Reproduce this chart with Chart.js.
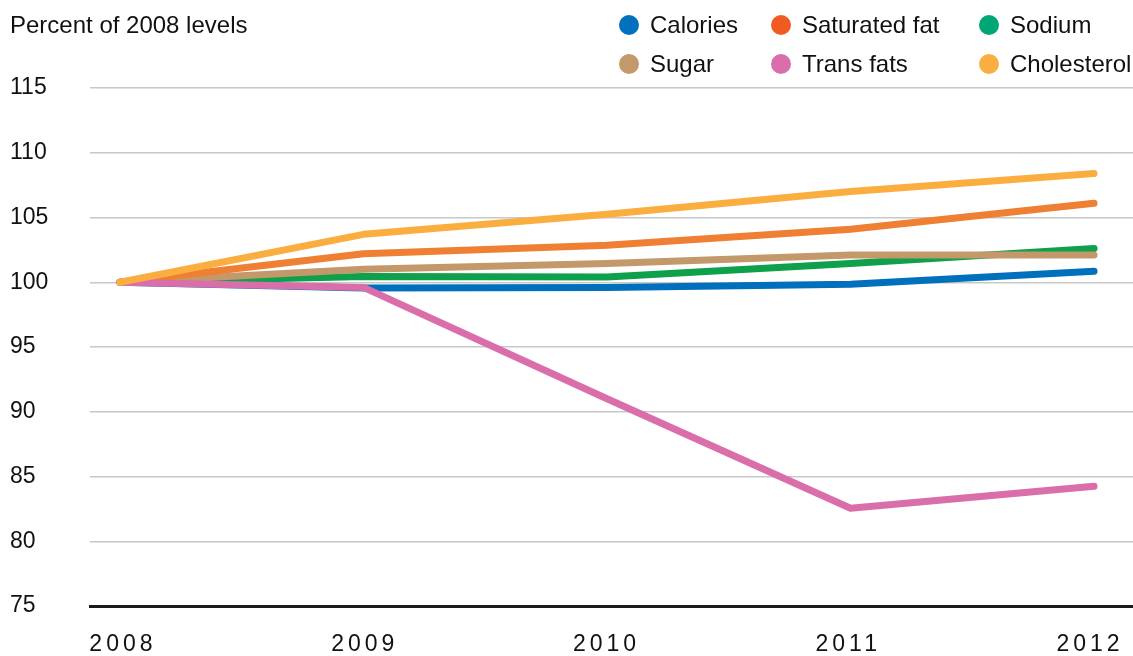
<!DOCTYPE html>
<html>
<head>
<meta charset="utf-8">
<title>Percent of 2008 levels</title>
<script src="https://cdn.jsdelivr.net/npm/chart.js@4/dist/chart.umd.min.js"></script>
<style>
  html, body { margin: 0; padding: 0; background: #fff; }
  #wrap { position: relative; width: 1133px; height: 656px; font-family: "Liberation Sans", Arial, sans-serif; color: #111; }
  #chart { position: absolute; left: 0; top: 0; }
  #title { position: absolute; left: 10px; top: 12px; font-size: 24px; line-height: 26px; white-space: nowrap; }
  .item { position: absolute; height: 26px; line-height: 26px; font-size: 24px; white-space: nowrap; }
  .dot { position: absolute; left: 0; top: 3px; width: 20px; height: 20px; border-radius: 50%; }
  .txt { position: absolute; left: 31px; top: 0; }
</style>
</head>
<body>
<div id="wrap">
  <canvas id="chart" width="1133" height="656"></canvas>
  <div id="title">Percent of 2008 levels</div>
  <div id="legend"></div>
</div>
<script>
// Index values, 2008 = 100
const years = [2008, 2009, 2010, 2011, 2012];
const calories     = [100, 99.55, 99.6, 99.85, 100.85];
const saturatedFat = [100, 102.2, 102.85, 104.1, 106.1];
const sodium       = [100, 100.45, 100.4, 101.45, 102.6];
const sugar        = [100, 101.0, 101.45, 102.1, 102.1];
const transFats    = [100, 99.6, 91.0, 82.55, 84.25];
const cholesterol  = [100, 103.7, 105.25, 107.0, 108.4];
const seriesNames  = ['Calories', 'Saturated fat', 'Sodium', 'Sugar', 'Trans fats', 'Cholesterol'];
const yTicks = [75, 80, 85, 90, 95, 100, 105, 110, 115];

// Styling
const lineColors   = ['#0070bd', '#ee7f33', '#0ea04b', '#c3986a', '#da6eab', '#fbae40'];
const legendColors = ['#0070bf', '#f25a23', '#00a676', '#c3986a', '#da6eab', '#fbae40'];
const drawOrder    = [6, 3, 5, 4, 2, 1]; // lower = drawn on top
const allSeries = [calories, saturatedFat, sodium, sugar, transFats, cholesterol];

// Legend: three columns, two rows
const legendCols = [619, 771, 979];
const legendRows = [12, 51];
const legendEl = document.getElementById('legend');
seriesNames.forEach((name, i) => {
  const item = document.createElement('div');
  item.className = 'item';
  item.style.left = legendCols[i % 3] + 'px';
  item.style.top = legendRows[Math.floor(i / 3)] + 'px';
  const dot = document.createElement('span');
  dot.className = 'dot';
  dot.style.background = legendColors[i];
  const txt = document.createElement('span');
  txt.className = 'txt';
  txt.textContent = name;
  item.appendChild(dot);
  item.appendChild(txt);
  legendEl.appendChild(item);
});

const datasets = allSeries.map((vals, i) => ({
  label: seriesNames[i],
  data: years.map((yr, j) => ({ x: yr, y: vals[j] })),
  borderColor: lineColors[i],
  backgroundColor: lineColors[i],
  borderWidth: 7,
  borderCapStyle: 'round',
  borderJoinStyle: 'round',
  pointRadius: 0,
  tension: 0,
  fill: false,
  order: drawOrder[i]
}));

// Spaced-out year labels under the x axis
const yearLabels = {
  id: 'yearLabels',
  afterDraw(chart) {
    const xs = chart.scales.x;
    const ctx = chart.ctx;
    ctx.save();
    ctx.font = '23px "Liberation Sans", Arial, sans-serif';
    ctx.fillStyle = '#111';
    ctx.textAlign = 'center';
    ctx.textBaseline = 'middle';
    ctx.letterSpacing = '4px';
    years.forEach((yr, i) => {
      ctx.fillText(String(yr), xs.getPixelForValue(yr) + 3 - 1.75 * i, 645);
    });
    ctx.restore();
  }
};

new Chart(document.getElementById('chart'), {
  type: 'line',
  data: { datasets },
  plugins: [yearLabels],
  options: {
    responsive: false,
    devicePixelRatio: 1,
    animation: false,
    layout: { padding: { left: 10, top: 88, right: 0, bottom: 0 } },
    plugins: { legend: { display: false }, tooltip: { enabled: false } },
    scales: {
      x: {
        type: 'linear',
        min: 2007.877,
        max: 2012.16,
        grid: { display: false, drawTicks: false },
        border: { display: true, color: '#1a1a1a', width: 3 },
        ticks: { display: false },
        afterFit(scale) { scale.height = 50; }
      },
      y: {
        min: 75,
        max: 115,
        afterBuildTicks(scale) { scale.ticks = yTicks.map(v => ({ value: v })); },
        grid: {
          drawTicks: false,
          color: c => (c.tick && c.tick.value === 75) ? 'rgba(0,0,0,0)' : '#c8c8c8',
          lineWidth: 1.5
        },
        border: { display: false },
        ticks: {
          crossAlign: 'far',
          padding: 0,
          color: '#111',
          font: { family: '"Liberation Sans", Arial, sans-serif', size: 23 }
        },
        afterFit(scale) { scale.width = 80; }
      }
    }
  }
});
</script>
</body>
</html>
